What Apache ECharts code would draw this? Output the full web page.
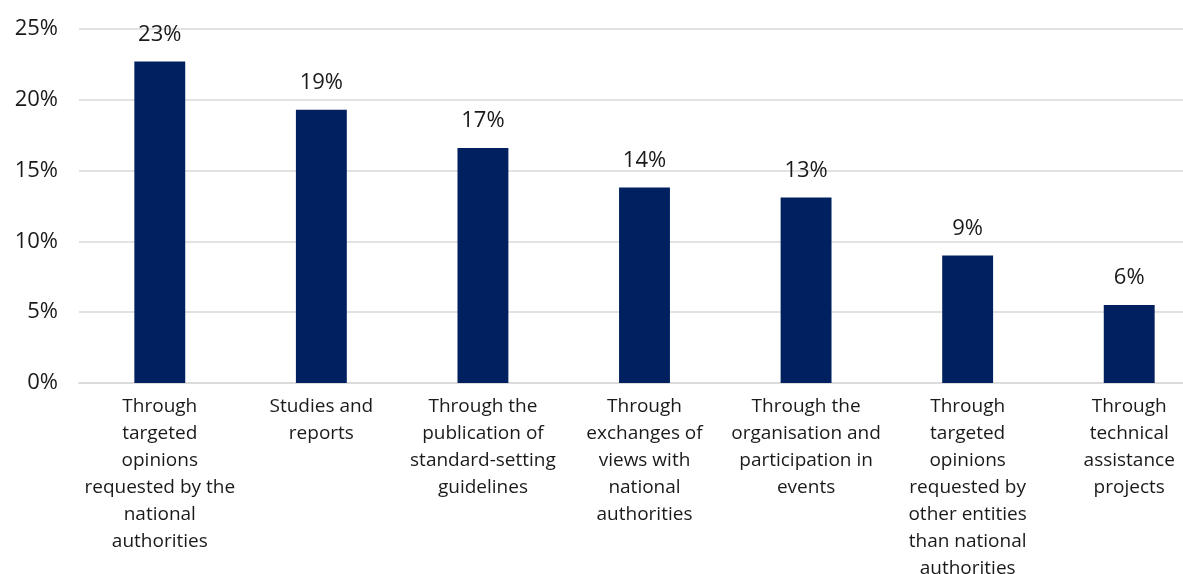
<!DOCTYPE html>
<html>
<head>
<meta charset="utf-8">
<style>
  html, body { margin: 0; padding: 0; background: #ffffff; }
  #chart { width: 1183px; height: 574px; }
</style>
<script src="https://cdn.jsdelivr.net/npm/echarts@6/dist/echarts.min.js"></script>
</head>
<body>
<div id="chart"></div>
<script>
// Channels used, with line breaks as they appear under each bar
const categories = [
  'Through\ntargeted\nopinions\nrequested by the\nnational\nauthorities',
  'Studies and\nreports',
  'Through the\npublication of\nstandard-setting\nguidelines',
  'Through\nexchanges of\nviews with\nnational\nauthorities',
  'Through the\norganisation and\nparticipation in\nevents',
  'Through\ntargeted\nopinions\nrequested by\nother entities\nthan national\nauthorities',
  'Through\ntechnical\nassistance\nprojects'
];

// Share of responses, in percent
const shares = [22.7, 19.3, 16.6, 13.8, 13.1, 9.0, 5.5];

// Value axis ticks
const yMin = 0;
const yMax = 25;
const yStep = 5;

const fontFamily = '"Open Sans", "Noto Sans", sans-serif';
const textColor = '#1a1a1a';

const chart = echarts.init(document.getElementById('chart'));
chart.setOption({
  animation: false,
  textStyle: { fontFamily: fontFamily },
  grid: {
    left: 79, top: 29, width: 1131, height: 354,
    containLabel: false,
    outerBoundsMode: 'none'
  },
  xAxis: {
    type: 'category',
    data: categories,
    axisLine: { show: true, lineStyle: { color: '#d9d9d9', width: 1.5 } },
    axisTick: { show: false },
    axisLabel: {
      interval: 0,
      color: textColor,
      fontSize: 19,
      lineHeight: 27,
      margin: 10,
      fontFamily: fontFamily
    }
  },
  yAxis: {
    type: 'value',
    min: yMin,
    max: yMax,
    interval: yStep,
    axisLine: { show: false },
    axisTick: { show: false },
    splitLine: { lineStyle: { color: '#d9d9d9', width: 1.5 } },
    axisLabel: {
      color: textColor,
      fontSize: 22,
      margin: 21,
      formatter: v => v + '%',
      fontFamily: fontFamily
    }
  },
  series: [{
    type: 'bar',
    data: shares,
    barWidth: '31.5%',
    itemStyle: { color: '#002060' },
    label: {
      show: true,
      position: 'top',
      distance: 16,
      color: textColor,
      fontSize: 22,
      fontFamily: fontFamily,
      formatter: p => Math.round(p.value) + '%'
    }
  }]
});
</script>
</body>
</html>
